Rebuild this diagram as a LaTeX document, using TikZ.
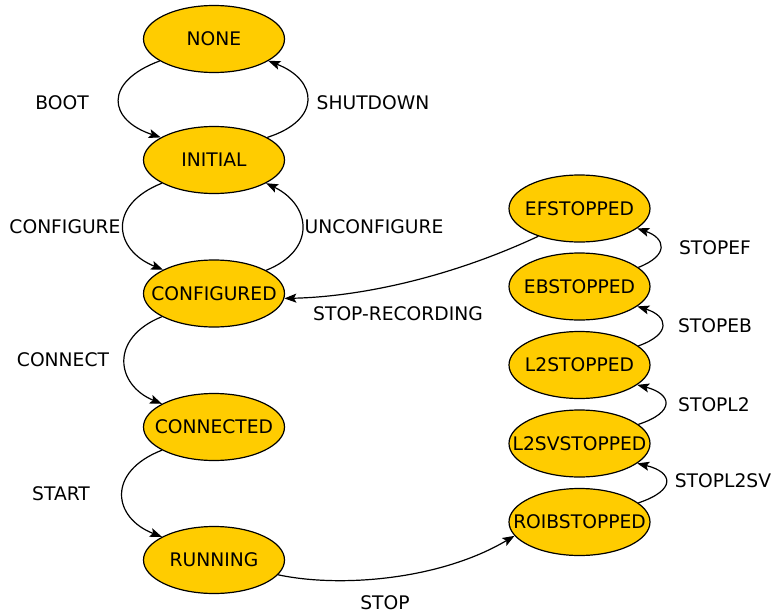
\documentclass[tikz,border=0pt]{standalone}
\usepackage{fontspec}
\setmainfont{DejaVu Sans}
\usetikzlibrary{shapes.geometric,arrows.meta}
\definecolor{statefill}{RGB}{255,204,0}
\tikzset{
  state/.style={ellipse, draw=black, line width=1.2pt, fill=statefill,
    minimum width=141pt, minimum height=67pt, inner sep=0pt},
  statetext/.style={font=\fontsize{18.7pt}{22pt}\selectfont, inner sep=0pt},
  trans/.style={draw=black, line width=1.2pt,
    -{Stealth[length=12pt,width=9pt,inset=2.5pt]}},
  translabel/.style={font=\fontsize{18.7pt}{22pt}\selectfont, inner sep=0pt}
}
\begin{document}
\begin{tikzpicture}[x=1pt,y=-1pt]
\useasboundingbox (0,0) rectangle (774,613);

% left column of states
\node[state, label={[statetext]center:NONE}]       (none)       at (214,39)    {};
\node[state, label={[statetext]center:INITIAL}]    (initial)    at (214,160)   {};
\node[state, label={[statetext]center:CONFIGURED}] (configured) at (214,293.5) {};
\node[state, label={[statetext]center:CONNECTED}]  (connected)  at (214,427)   {};
\node[state, label={[statetext]center:RUNNING}]    (running)    at (214,560)   {};

% right column of states
\node[state, label={[statetext]center:EFSTOPPED}]   (efstopped)   at (579.5,208.5) {};
\node[state, label={[statetext]center:EBSTOPPED}]   (ebstopped)   at (579.5,286.5) {};
\node[state, label={[statetext]center:L2STOPPED}]   (ltwostopped) at (579.5,365)   {};
\node[state, label={[statetext]center:L2SVSTOPPED}] (ltwosvstopped) at (579.5,443.5) {};
\node[state, label={[statetext]center:ROIBSTOPPED}] (roibstopped) at (579.5,522)   {};

% transitions down the left column
\draw[trans] (none.202) .. controls (103,82) and (108,120) .. (initial.157);
\draw[trans] (initial.23) .. controls (322,120) and (318,80) .. (none.-22);
\draw[trans] (initial.204) .. controls (107,205) and (114,250) .. (configured.155);
\draw[trans] (configured.24) .. controls (317,250) and (311,205) .. (initial.-24);
\draw[trans] (configured.204) .. controls (109,338) and (116,385) .. (connected.156);
\draw[trans] (connected.204) .. controls (106,472) and (113,518) .. (running.156);

% run stop and recording stop
\draw[trans] (running.-13) .. controls (340,588) and (440,580) .. (roibstopped.192);
\draw[trans] (efstopped.214) .. controls (440,282) and (350,297) .. (configured.-4);

% stopping chain up the right column
\draw[trans] (ebstopped.18) .. controls (670,255) and (665,238) .. (efstopped.-19);
\draw[trans] (ltwostopped.18) .. controls (672,334) and (668,316) .. (ebstopped.-19);
\draw[trans] (ltwosvstopped.18) .. controls (676,412) and (672,394) .. (ltwostopped.-19);
\draw[trans] (roibstopped.18) .. controls (677,490) and (673,472) .. (ltwosvstopped.-19);

% transition labels
\node[translabel] (lboot)      at (62,103)  {BOOT};
\node[translabel] (lshutdown)  at (373,103) {SHUTDOWN};
\node[translabel] (lconfigure) at (65,227)  {CONFIGURE};
\node[translabel] (lunconf)    at (374,227) {UNCONFIGURE};
\node[translabel] (lconnect)   at (63,360)  {CONNECT};
\node[translabel] (lstart)     at (61,494)  {START};
\node[translabel] (lstop)      at (385,603) {STOP};
\node[translabel] (lstoprec)   at (398,314) {STOP-RECORDING};
\node[translabel] (lstopef)    at (715,248) {STOPEF};
\node[translabel] (lstopeb)    at (715,326) {STOPEB};
\node[translabel] (lstopltwo)  at (714,405) {STOPL2};
\node[translabel] (lstopltwosv) at (723,481) {STOPL2SV};
\end{tikzpicture}
\end{document}
